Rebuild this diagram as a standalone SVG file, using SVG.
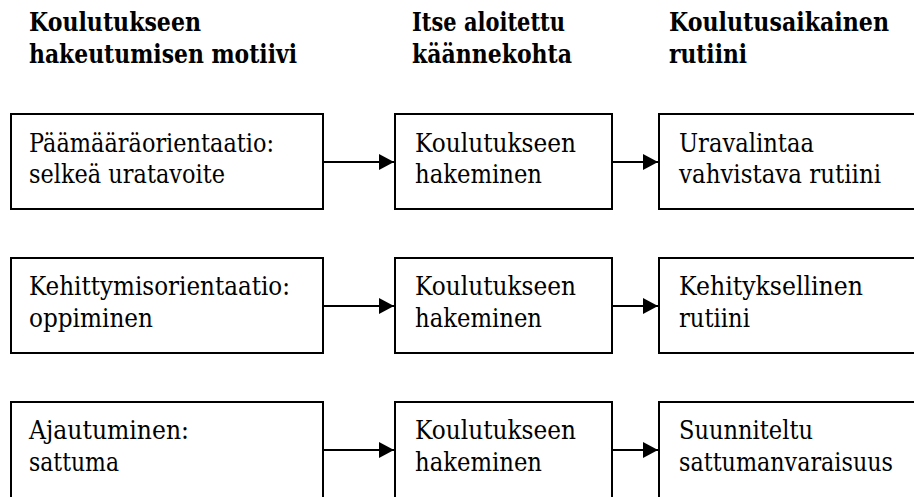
<svg xmlns="http://www.w3.org/2000/svg" width="914" height="497" viewBox="0 0 914 497">
<defs>
<style>
.box{fill:#fff;stroke:#000;stroke-width:2}
.t{font-family:'DejaVu Serif','Liberation Serif',serif;font-size:26px;fill:#000}
.h{font-family:'DejaVu Serif','Liberation Serif',serif;font-size:26.5px;font-weight:bold;fill:#000}
.c{stroke:#000;stroke-width:2;fill:none}
</style>
<marker id="ah" viewBox="0 0 15 16" refX="15" refY="8" markerWidth="15" markerHeight="16" markerUnits="userSpaceOnUse" orient="auto">
<path d="M0,0 L15,8 L0,16 Z" fill="#000"/>
</marker>
</defs>
<rect width="914" height="497" fill="#fff"/>
<g id="headers">
<text class="h" x="29" y="31" textLength="172" lengthAdjust="spacingAndGlyphs">Koulutukseen</text>
<text class="h" x="29" y="63" textLength="268" lengthAdjust="spacingAndGlyphs">hakeutumisen motiivi</text>
<text class="h" x="412" y="31" textLength="153" lengthAdjust="spacingAndGlyphs">Itse aloitettu</text>
<text class="h" x="412" y="63" textLength="160" lengthAdjust="spacingAndGlyphs">käännekohta</text>
<text class="h" x="669" y="31" textLength="220" lengthAdjust="spacingAndGlyphs">Koulutusaikainen</text>
<text class="h" x="669" y="63" textLength="78" lengthAdjust="spacingAndGlyphs">rutiini</text>
</g>
<g id="r1c1"><rect class="box" x="11" y="114" width="312" height="95"/>
<text class="t" x="29" y="152" textLength="245" lengthAdjust="spacingAndGlyphs">Päämääräorientaatio:</text><text class="t" x="29" y="183" textLength="196" lengthAdjust="spacingAndGlyphs">selkeä uratavoite</text></g>
<g id="r1c2"><rect class="box" x="395" y="114" width="217" height="95"/>
<text class="t" x="415" y="152" textLength="161" lengthAdjust="spacingAndGlyphs">Koulutukseen</text><text class="t" x="415" y="183" textLength="127" lengthAdjust="spacingAndGlyphs">hakeminen</text></g>
<g id="r1c3"><rect class="box" x="659" y="114" width="260" height="95"/>
<text class="t" x="679" y="152" textLength="135" lengthAdjust="spacingAndGlyphs">Uravalintaa</text><text class="t" x="679" y="183" textLength="202" lengthAdjust="spacingAndGlyphs">vahvistava rutiini</text></g>
<g id="r2c1"><rect class="box" x="11" y="258" width="312" height="95"/>
<text class="t" x="29" y="295" textLength="261" lengthAdjust="spacingAndGlyphs">Kehittymisorientaatio:</text><text class="t" x="29" y="327" textLength="124" lengthAdjust="spacingAndGlyphs">oppiminen</text></g>
<g id="r2c2"><rect class="box" x="395" y="258" width="217" height="95"/>
<text class="t" x="415" y="295" textLength="161" lengthAdjust="spacingAndGlyphs">Koulutukseen</text><text class="t" x="415" y="327" textLength="127" lengthAdjust="spacingAndGlyphs">hakeminen</text></g>
<g id="r2c3"><rect class="box" x="659" y="258" width="260" height="95"/>
<text class="t" x="679" y="295" textLength="184" lengthAdjust="spacingAndGlyphs">Kehityksellinen</text><text class="t" x="679" y="327" textLength="71" lengthAdjust="spacingAndGlyphs">rutiini</text></g>
<g id="r3c1"><rect class="box" x="11" y="402" width="312" height="105"/>
<text class="t" x="29" y="439" textLength="160" lengthAdjust="spacingAndGlyphs">Ajautuminen:</text><text class="t" x="29" y="471" textLength="90" lengthAdjust="spacingAndGlyphs">sattuma</text></g>
<g id="r3c2"><rect class="box" x="395" y="402" width="217" height="105"/>
<text class="t" x="415" y="439" textLength="161" lengthAdjust="spacingAndGlyphs">Koulutukseen</text><text class="t" x="415" y="471" textLength="127" lengthAdjust="spacingAndGlyphs">hakeminen</text></g>
<g id="r3c3"><rect class="box" x="659" y="402" width="260" height="105"/>
<text class="t" x="679" y="439" textLength="134" lengthAdjust="spacingAndGlyphs">Suunniteltu</text><text class="t" x="679" y="471" textLength="214" lengthAdjust="spacingAndGlyphs">sattumanvaraisuus</text></g>
<g id="connectors">
<line class="c" x1="323" y1="162" x2="394" y2="162" marker-end="url(#ah)"/>
<line class="c" x1="612" y1="162" x2="658" y2="162" marker-end="url(#ah)"/>
<line class="c" x1="323" y1="306" x2="394" y2="306" marker-end="url(#ah)"/>
<line class="c" x1="612" y1="306" x2="658" y2="306" marker-end="url(#ah)"/>
<line class="c" x1="323" y1="450" x2="394" y2="450" marker-end="url(#ah)"/>
<line class="c" x1="612" y1="450" x2="658" y2="450" marker-end="url(#ah)"/>
</g>
</svg>
